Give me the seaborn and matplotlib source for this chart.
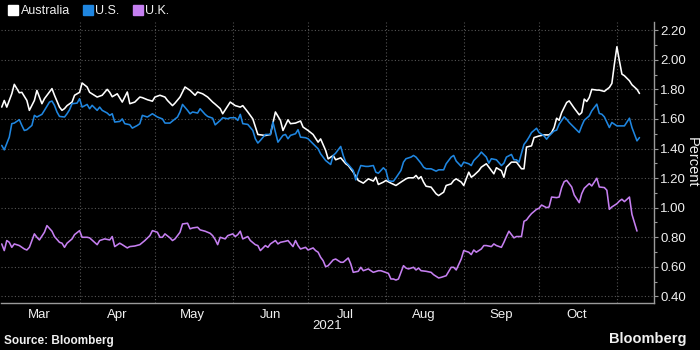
import pandas as pd
import matplotlib
matplotlib.use("Agg")
import matplotlib.pyplot as plt
import matplotlib.dates as mdates
from matplotlib.ticker import MultipleLocator, FormatStrFormatter, NullFormatter
from matplotlib.lines import Line2D
import seaborn as sns

# 10-year government bond yields, 2021 (percent); days counted from START
START = "2021-03-01"

au_days = [0, 1, 2, 4, 5, 7, 8, 10, 11, 13, 14, 16, 17, 20, 21, 23, 24, 25, 26, 28, 29, 31, 32, 34, 35, 38, 40,
           42, 43, 44, 46, 48, 50, 51, 53, 55, 56, 58, 60, 61, 63, 65, 66, 68, 69, 71, 73, 75, 77, 78, 80, 82, 84,
           85, 87, 88, 91, 93, 95, 96, 98, 100, 102, 105, 107, 109, 111, 112, 114, 115, 117, 119, 120, 122, 124,
           126, 127, 129, 130, 132, 133, 135, 137, 138, 140, 142, 144, 146, 148, 149, 150, 152, 153, 155, 157,
           159, 161, 162, 164, 165, 166, 167, 168, 169, 171, 173, 174, 176, 177, 179, 180, 181, 183, 184, 186,
           187, 188, 190, 191, 193, 194, 196, 197, 199, 200, 201, 203, 205, 207, 208, 209, 211, 212, 214, 216,
           218, 219, 220, 221, 222, 223, 225, 226, 228, 230, 231, 232, 233, 234, 235, 237, 238, 240, 241, 242,
           243, 244, 245, 246, 247, 248, 250, 251, 253, 254]
au_yield = [1.68, 1.725, 1.68, 1.77, 1.834, 1.777, 1.78, 1.725, 1.658, 1.725, 1.793, 1.703, 1.737, 1.805, 1.76,
            1.68, 1.658, 1.67, 1.69, 1.714, 1.76, 1.78, 1.843, 1.816, 1.78, 1.748, 1.76,
            1.80, 1.78, 1.75, 1.77, 1.714, 1.782, 1.703, 1.714, 1.748, 1.744, 1.73, 1.72, 1.748, 1.76, 1.748,
            1.725, 1.69, 1.707, 1.748, 1.816, 1.793, 1.76, 1.782, 1.77, 1.748, 1.714,
            1.70, 1.67, 1.635, 1.714, 1.69, 1.68, 1.69, 1.647, 1.60, 1.495, 1.488, 1.495, 1.647, 1.59, 1.522,
            1.594, 1.568, 1.572, 1.586, 1.545, 1.522, 1.495,
            1.443, 1.465, 1.387, 1.33, 1.353, 1.324, 1.337, 1.297, 1.285, 1.24, 1.184, 1.166, 1.195, 1.18, 1.206,
            1.157, 1.173, 1.184, 1.166, 1.15,
            1.173, 1.195, 1.202, 1.202, 1.218, 1.195, 1.21, 1.173, 1.145, 1.139, 1.094, 1.082, 1.105, 1.15,
            1.161, 1.184, 1.195, 1.173, 1.15, 1.24,
            1.206, 1.218, 1.25, 1.274, 1.297, 1.274, 1.229, 1.27, 1.25, 1.206, 1.274, 1.308, 1.308, 1.263, 1.263,
            1.41, 1.418, 1.474, 1.485, 1.492,
            1.492, 1.508, 1.542, 1.605, 1.591, 1.643, 1.711, 1.722, 1.673, 1.628, 1.643, 1.734, 1.718, 1.745,
            1.80, 1.795, 1.795, 1.786, 1.80, 1.813,
            1.84, 1.97, 2.088, 1.993, 1.903, 1.892, 1.858, 1.831, 1.80, 1.772]

us_days = [0, 1, 3, 4, 5, 7, 8, 9, 10, 12, 13, 14, 16, 17, 19, 20, 21, 22, 23, 25, 26, 27, 28, 30, 31, 32, 34, 35,
           36, 38, 39, 40, 42, 43, 44, 45, 47, 48, 49, 51, 52, 54, 55, 56, 58, 59, 60, 62, 64, 65, 67, 68, 70, 71,
           72, 74, 75, 76, 78, 79, 81, 82, 84, 85, 87, 88, 90, 91, 93, 94, 95, 96, 98, 100, 101, 102, 103, 105,
           107, 108, 109, 110, 112, 113, 114, 115, 117, 118, 119, 121, 122, 124, 126, 127, 128, 129, 131, 132,
           133, 135, 136, 137, 138, 140, 141, 142, 143, 145, 146, 148, 149, 150, 152, 153, 154, 155, 156, 157,
           159, 160, 161, 163, 164, 165, 167, 168, 169, 171, 173, 174, 176, 177, 179, 180, 181, 183, 184, 186,
           187, 188, 190, 191, 193, 194, 195, 197, 199, 200, 201, 203, 204, 205, 206, 208, 209, 210, 211, 213,
           214, 216, 217, 218, 220, 221, 222, 224, 225, 226, 228, 230, 231, 232, 234, 235, 237, 238, 239, 240,
           242, 243, 245, 247, 248, 250, 251, 253, 254]
us_yield = [1.421, 1.391, 1.477, 1.568, 1.572, 1.595, 1.556, 1.522, 1.527, 1.556, 1.624, 1.613, 1.631, 1.658,
            1.714, 1.721, 1.692, 1.647, 1.617, 1.613, 1.635, 1.662, 1.703, 1.707, 1.737, 1.68, 1.698, 1.669,
            1.692, 1.658, 1.68, 1.658, 1.64, 1.624, 1.635, 1.579, 1.583, 1.60, 1.568, 1.561, 1.538, 1.556, 1.568,
            1.624, 1.613, 1.624, 1.635, 1.613, 1.60, 1.572, 1.572, 1.586, 1.613, 1.647,
            1.698, 1.658, 1.635, 1.647, 1.64, 1.669, 1.631, 1.617, 1.605, 1.56, 1.59, 1.608, 1.601, 1.608,
            1.608, 1.59, 1.631, 1.568, 1.563, 1.522, 1.466, 1.437, 1.455, 1.495,
            1.495, 1.579, 1.511, 1.443, 1.489, 1.495, 1.466, 1.489, 1.50, 1.527, 1.477, 1.473, 1.466, 1.432,
            1.398, 1.364, 1.342, 1.319, 1.292, 1.353,
            1.369, 1.414, 1.353, 1.308, 1.292, 1.252, 1.188, 1.24, 1.285, 1.279, 1.279, 1.285, 1.24, 1.233,
            1.27, 1.252, 1.184, 1.179, 1.179, 1.202,
            1.252, 1.308, 1.331, 1.342, 1.353, 1.342, 1.30, 1.274, 1.263, 1.263, 1.247, 1.256, 1.256, 1.297,
            1.342, 1.353, 1.315, 1.279, 1.308, 1.297,
            1.285, 1.319, 1.353, 1.376, 1.342, 1.301, 1.331, 1.324, 1.285, 1.301, 1.342, 1.36, 1.324, 1.324,
            1.308, 1.428, 1.45, 1.477, 1.508, 1.537,
            1.508, 1.485, 1.463, 1.485, 1.519, 1.524, 1.564, 1.614, 1.598, 1.576, 1.542, 1.508, 1.553, 1.591,
            1.621, 1.655, 1.70, 1.637, 1.632, 1.614,
            1.542, 1.576, 1.553, 1.553, 1.553, 1.605, 1.542, 1.452, 1.474]

uk_days = [0, 1, 2, 3, 4, 5, 7, 9, 10, 11, 13, 14, 15, 17, 18, 20, 21, 23, 24, 25, 26, 28, 29, 31, 32, 34, 35, 37,
           38, 39, 41, 43, 44, 45, 47, 48, 50, 51, 53, 55, 57, 59, 60, 62, 63, 64, 65, 67, 68, 69, 71, 72, 74, 75,
           76, 78, 79, 81, 83, 84, 85, 86, 87, 89, 90, 92, 93, 94, 95, 96, 98, 99, 101, 102, 103, 105, 106, 107,
           109, 110, 111, 113, 114, 116, 117, 118, 119, 121, 122, 124, 125, 126, 127, 128, 129, 130, 132, 133,
           135, 136, 138, 139, 140, 142, 143, 144, 146, 147, 148, 150, 151, 152, 154, 155, 156, 157, 158, 160,
           161, 162, 164, 165, 166, 167, 169, 171, 172, 174, 175, 177, 179, 180, 181, 183, 184, 186, 187, 188,
           189, 191, 192, 193, 195, 196, 197, 199, 200, 201, 202, 204, 205, 207, 208, 209, 210, 211, 213, 214,
           215, 217, 218, 219, 221, 222, 223, 224, 225, 227, 228, 230, 231, 232, 234, 235, 237, 238, 240, 241,
           242, 243, 245, 246, 247, 248, 250, 251, 253]
uk_yield = [0.755, 0.71, 0.778, 0.766, 0.732, 0.755, 0.744, 0.721, 0.714, 0.732, 0.823, 0.80, 0.782, 0.834,
            0.879, 0.841, 0.805, 0.766, 0.76, 0.732, 0.76, 0.789, 0.818, 0.845, 0.80, 0.80, 0.796, 0.766,
            0.75, 0.778, 0.789, 0.782, 0.805, 0.737, 0.76, 0.75, 0.728, 0.737, 0.741, 0.75, 0.778, 0.811, 0.845,
            0.834, 0.80, 0.80, 0.823, 0.796, 0.778, 0.789, 0.834, 0.89, 0.895, 0.857,
            0.863, 0.868, 0.85, 0.841, 0.827, 0.811, 0.785, 0.75, 0.80, 0.789, 0.811, 0.823, 0.805, 0.818,
            0.841, 0.789, 0.805, 0.778, 0.75, 0.744, 0.71, 0.744, 0.732, 0.755,
            0.778, 0.755, 0.766, 0.773, 0.778, 0.737, 0.778, 0.744, 0.721, 0.732, 0.714, 0.728, 0.71, 0.699,
            0.665, 0.642, 0.601, 0.608, 0.647, 0.653,
            0.631, 0.631, 0.66, 0.62, 0.563, 0.57, 0.597, 0.574, 0.586, 0.574, 0.563, 0.574, 0.574, 0.568,
            0.556, 0.518, 0.518, 0.511, 0.518, 0.608,
            0.592, 0.586, 0.597, 0.579, 0.592, 0.574, 0.57, 0.563, 0.547, 0.525, 0.529, 0.54, 0.597, 0.597,
            0.579, 0.653, 0.71, 0.699, 0.683, 0.714,
            0.699, 0.721, 0.744, 0.744, 0.737, 0.755, 0.744, 0.732, 0.766, 0.805, 0.841, 0.796, 0.805, 0.805,
            0.908, 0.917, 0.94, 0.96, 0.989, 0.996,
            1.018, 1.00, 1.005, 1.072, 1.068, 1.072, 1.136, 1.176, 1.185, 1.14, 1.086, 1.034, 1.095, 1.131,
            1.163, 1.147, 1.199, 1.14, 1.136, 1.118,
            0.989, 1.005, 1.027, 1.045, 1.057, 1.041, 1.072, 0.955, 0.842]

series_names = ["Australia", "U.S.", "U.K."]
series_colors = ["#ffffff", "#1f86e0", "#c57ff0"]
y_ticks = [0.40, 0.60, 0.80, 1.00, 1.20, 1.40, 1.60, 1.80, 2.00, 2.20]

start = pd.Timestamp(START)
frames = []
for name, days, vals in zip(series_names, [au_days, us_days, uk_days], [au_yield, us_yield, uk_yield]):
    frames.append(pd.DataFrame({
        "date": start + pd.to_timedelta(days, unit="D"),
        "yield": vals,
        "country": name,
    }))
df = pd.concat(frames, ignore_index=True)

sns.set_style("dark", {"axes.facecolor": "black", "figure.facecolor": "black"})
plt.rcParams["font.family"] = ["Liberation Sans", "DejaVu Sans"]

BG = "black"
GRID = "#555555"
SPINE = "#9a9a9a"
TXT = "#f0f0f0"

fig = plt.figure(figsize=(7, 3.5), dpi=100, facecolor=BG)
ax = fig.add_axes([0.001, 0.134, 0.933, 0.803])
ax.set_facecolor(BG)

sns.lineplot(data=df, x="date", y="yield", hue="country", hue_order=series_names,
             palette=dict(zip(series_names, series_colors)), estimator=None,
             linewidth=1.15, legend=False, ax=ax)

# axis limits
ax.set_xlim(start - pd.Timedelta(hours=10), start + pd.Timedelta(days=259.7))
ax.set_ylim(0.355, 2.255)

# x axis: gridlines at month starts (Apr-Nov), labels mid-month
ax.xaxis.set_major_locator(mdates.MonthLocator(bymonth=range(4, 12)))
ax.xaxis.set_major_formatter(NullFormatter())
ax.xaxis.set_minor_locator(mdates.MonthLocator(bymonthday=16))
ax.xaxis.set_minor_formatter(mdates.DateFormatter("%b"))
ax.tick_params(axis="x", which="major", direction="inout", length=5, color=SPINE, width=0.8)
ax.tick_params(axis="x", which="minor", length=0, pad=4, labelsize=9.5, labelcolor=TXT)

# y axis on the right
ax.yaxis.tick_right()
ax.set_yticks(y_ticks)
ax.yaxis.set_major_formatter(FormatStrFormatter("%.2f"))
ax.yaxis.set_minor_locator(MultipleLocator(0.1))
ax.tick_params(axis="y", which="major", direction="out", length=3, width=0.8, color=SPINE,
               pad=1.5, labelsize=9.5, labelcolor=TXT)
ax.tick_params(axis="y", which="minor", direction="out", length=2, width=0.8, color=SPINE)
ax.set_xlabel("")
ax.set_ylabel("")

ax.grid(True, which="major", color=GRID, linestyle=(0, (1, 2)), linewidth=0.8)
ax.grid(False, which="minor")

for side in ["left", "top"]:
    ax.spines[side].set_visible(False)
for side in ["right", "bottom"]:
    ax.spines[side].set_visible(True)
    ax.spines[side].set_color(SPINE)
    ax.spines[side].set_linewidth(1.0)

fig.text(0.988, 0.536, "Percent", rotation=270, ha="center", va="center", color=TXT, fontsize=10.5)
fig.text(0.467, 0.069, "2021", ha="center", va="center", color=TXT, fontsize=9.5)

# legend
handles = [Line2D([], [], marker="s", linestyle="none", markersize=7, markerfacecolor=c, markeredgecolor=c)
           for c in series_colors]
fig.legend(handles, series_names, loc="upper left", bbox_to_anchor=(0.0, 1.01), ncol=3, frameon=False,
           handlelength=0.7, handletextpad=0.25, columnspacing=1.1, fontsize=9, labelcolor=TXT,
           borderaxespad=0.3)

fig.text(0.005, 0.025, "Source: Bloomberg", ha="left", va="center", color=TXT, fontsize=8.5, fontweight="bold")
fig.text(0.98, 0.03, "Bloomberg", ha="right", va="center", color=TXT, fontsize=10.5, fontweight="bold")

fig.savefig("out.png", dpi=100, facecolor=BG)
